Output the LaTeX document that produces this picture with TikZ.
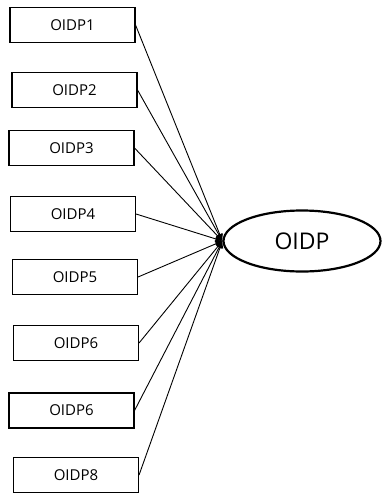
\documentclass[tikz,border=0pt]{standalone}
\usepackage{fontspec}
\setmainfont{Open Sans}
\usetikzlibrary{arrows.meta,shapes.geometric}
\begin{document}
\begin{tikzpicture}[x=1pt,y=-1pt,
  itembox/.style={draw=black, line width=1.1pt, minimum width=125pt, minimum height=35pt, inner sep=0pt, font=\fontsize{15}{17}\selectfont},
  construct/.style={draw=black, ellipse, line width=2.2pt, minimum width=157pt, minimum height=61pt, inner sep=0pt, font=\fontsize{23}{27}\selectfont},
  link/.style={draw=black, line width=0.9pt, -{Latex[length=7pt,width=7pt]}}]
\useasboundingbox (0,0) rectangle (382,493);
\node[itembox] (i1) at (72.5,25) {OIDP1};
\node[itembox] (i2) at (74.5,90) {OIDP2};
\node[itembox] (i3) at (71.5,148) {OIDP3};
\node[itembox] (i4) at (73,214) {OIDP4};
\node[itembox] (i5) at (75,277) {OIDP5};
\node[itembox] (i6) at (76,343) {OIDP6};
\node[itembox] (i7) at (71.5,410.5) {OIDP6};
\node[itembox] (i8) at (76,475) {OIDP8};
\node[construct] (c) at (302,241) {OIDP};
\foreach \n in {1,...,8} \draw[link] (i\n.east) -- (c.west);
\end{tikzpicture}
\end{document}
